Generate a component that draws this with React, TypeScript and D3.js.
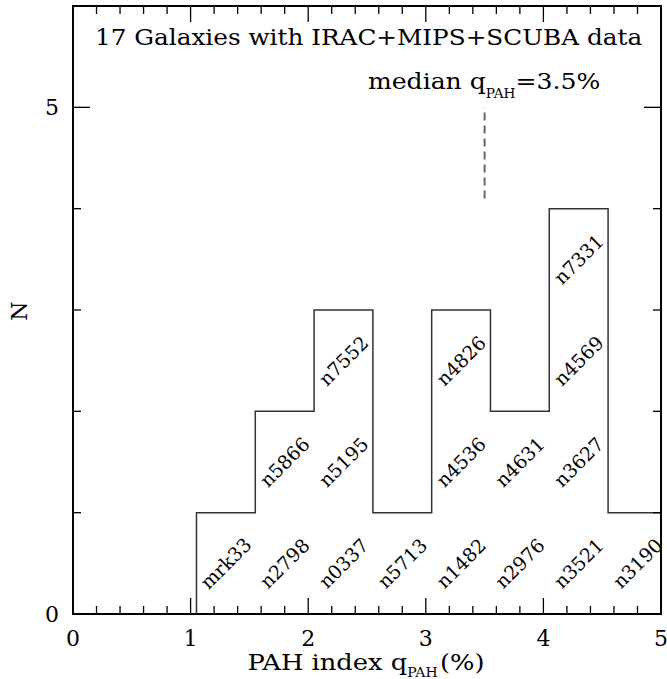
import React from "react";
import * as d3 from "d3";

const binEdges = [1.05, 1.55, 2.05, 2.55, 3.05, 3.55, 4.05, 4.55, 5.05];
const counts = [1, 2, 3, 1, 3, 2, 4, 1];
const binGalaxies = [
  ["mrk33"],
  ["n2798", "n5866"],
  ["n0337", "n5195", "n7552"],
  ["n5713"],
  ["n1482", "n4536", "n4826"],
  ["n2976", "n4631"],
  ["n3521", "n3627", "n4569", "n7331"],
  ["n3190"],
];
const xTicks = [0, 1, 2, 3, 4, 5];
const yTickLabels = [0, 5];
const medianValue = 3.5;
const medianRange = [4.1, 5.0];
const titleText = "17 Galaxies with IRAC+MIPS+SCUBA data";

const W = 667;
const H = 679;
const L = 73, R = 661, T = 6, B = 614;
const FONT = "'DejaVu Serif', 'Liberation Serif', serif";

export default function App() {
  const x = d3.scaleLinear().domain([0, 5]).range([L, R]);
  const y = d3.scaleLinear().domain([0, 6]).range([B, T]);

  const pts: [number, number][] = [[binEdges[0], 0]];
  counts.forEach((c, i) => pts.push([binEdges[i], c]));
  pts.push([binEdges[binEdges.length - 1], counts[counts.length - 1]]);
  const line = d3
    .line<[number, number]>()
    .x((d) => x(d[0]))
    .y((d) => y(d[1]))
    .curve(d3.curveStepAfter);

  const minorX = d3.range(0, 5.0001, 0.2).map((v) => +v.toFixed(2));
  const minorY = d3.range(0, 6.0001, 1);

  const ticks: JSX.Element[] = [];
  minorX.forEach((v, i) => {
    const major = Math.abs(v - Math.round(v)) < 1e-6;
    const len = major ? 16 : 8;
    ticks.push(<line key={"xb" + i} x1={x(v)} x2={x(v)} y1={B} y2={B - len} />);
    ticks.push(<line key={"xt" + i} x1={x(v)} x2={x(v)} y1={T} y2={T + len} />);
  });
  minorY.forEach((v, i) => {
    const major = v % 5 === 0;
    const len = major ? 17 : 8;
    ticks.push(<line key={"yl" + i} x1={L} x2={L + len} y1={y(v)} y2={y(v)} />);
    ticks.push(<line key={"yr" + i} x1={R} x2={R - len} y1={y(v)} y2={y(v)} />);
  });

  const labels: JSX.Element[] = [];
  binGalaxies.forEach((names, i) => {
    const cx = x((binEdges[i] + binEdges[i + 1]) / 2);
    names.forEach((n, j) => {
      const cy = y(j + 0.5);
      labels.push(
        <text
          key={n}
          transform={`translate(${cx},${cy}) rotate(-45)`}
          textAnchor="middle"
          dy="0.36em"
          fontSize={19}
        >
          {n}
        </text>
      );
    });
  });

  return (
    <svg
      width={W}
      height={H}
      style={{ position: "absolute", left: 0, top: 0, background: "#fff" }}
      fontFamily={FONT}
    >
      <defs>
        <clipPath id="plot">
          <rect x={L} y={T} width={R - L} height={B - T} />
        </clipPath>
      </defs>
      <path
        d={line(pts) || ""}
        fill="none"
        stroke="#333"
        strokeWidth={1.5}
        clipPath="url(#plot)"
      />
      <line
        x1={x(medianValue)}
        x2={x(medianValue)}
        y1={y(medianRange[0])}
        y2={y(medianRange[1])}
        stroke="#666"
        strokeWidth={2}
        strokeDasharray="8,5"
      />
      <g stroke="#000" strokeWidth={1.3}>{ticks}</g>
      <rect x={L} y={T} width={R - L} height={B - T} fill="none" stroke="#000" strokeWidth={2} />
      {labels}
      <g transform="translate(95,45) scale(1.124,1)">
        <text x={0} y={0} fontSize={22}>{titleText}</text>
      </g>
      <g transform="translate(368,89) scale(1.14,1)">
        <text x={0} y={0} fontSize={22}>
          median q
          <tspan fontSize={12} dy={9}>PAH</tspan>
          <tspan dy={-9}>=3.5%</tspan>
        </text>
      </g>
      {xTicks.map((v) => (
        <text key={"xl" + v} x={x(v)} y={646} textAnchor="middle" fontSize={22}>
          {v}
        </text>
      ))}
      {yTickLabels.map((v) => (
        <text key={"yl" + v} x={52} y={y(v)} dy="0.36em" textAnchor="middle" fontSize={22}>
          {v}
        </text>
      ))}
      <g transform="translate(366,670) scale(1.17,1)">
        <text x={0} y={0} textAnchor="middle" fontSize={22}>
          PAH index q
          <tspan fontSize={12} dy={7}>PAH</tspan>
          <tspan dx={2} dy={-7}>(%)</tspan>
        </text>
      </g>
      <text
        transform={`translate(27,311) rotate(-90)`}
        textAnchor="middle"
        fontSize={22}
      >
        N
      </text>
    </svg>
  );
}
